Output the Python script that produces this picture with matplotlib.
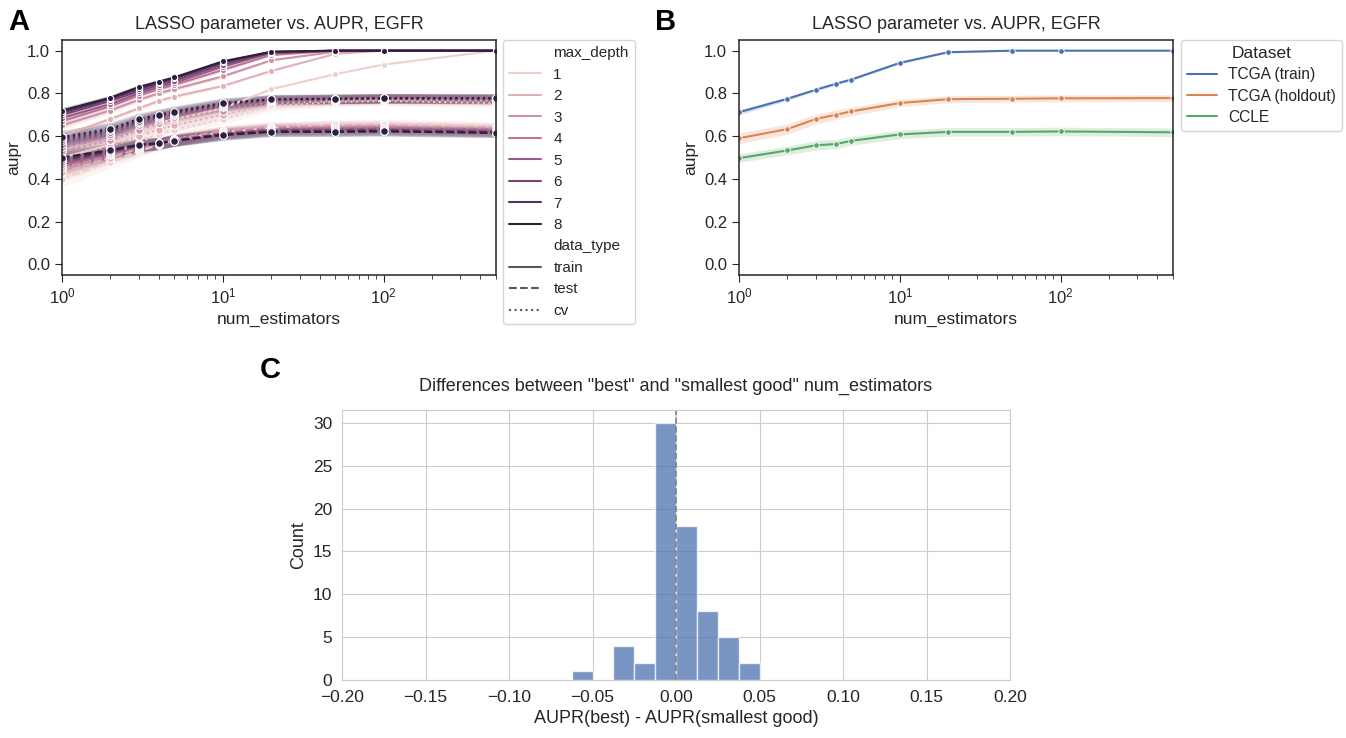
import numpy as np
import matplotlib
matplotlib.use("Agg")
from matplotlib import pyplot as plt
from matplotlib.lines import Line2D
import seaborn as sns

# ---- data -------------------------------------------------------------
n_estimators = [1, 2, 3, 4, 5, 10, 20, 50, 100, 500]
depths = [1, 2, 3, 4, 5, 6, 7, 8]

# panel A: mean aupr per max_depth (rows) and num_estimators (cols)
train_aupr = [
    [0.50, 0.56, 0.62, 0.66, 0.68, 0.73, 0.82, 0.89, 0.935, 1.0],
    [0.60, 0.68, 0.73, 0.765, 0.785, 0.835, 0.905, 0.985, 1.0, 1.0],
    [0.65, 0.72, 0.77, 0.80, 0.82, 0.88, 0.955, 0.995, 1.0, 1.0],
    [0.67, 0.74, 0.79, 0.82, 0.84, 0.91, 0.98, 1.0, 1.0, 1.0],
    [0.685, 0.75, 0.80, 0.83, 0.85, 0.925, 0.99, 1.0, 1.0, 1.0],
    [0.70, 0.765, 0.81, 0.84, 0.86, 0.935, 0.99, 1.0, 1.0, 1.0],
    [0.71, 0.775, 0.82, 0.85, 0.87, 0.945, 0.995, 1.0, 1.0, 1.0],
    [0.72, 0.78, 0.83, 0.855, 0.875, 0.95, 0.995, 1.0, 1.0, 1.0],
]
cv_aupr = [
    [0.45, 0.51, 0.57, 0.61, 0.63, 0.68, 0.74, 0.76, 0.765, 0.755],
    [0.50, 0.55, 0.60, 0.63, 0.65, 0.70, 0.75, 0.765, 0.77, 0.765],
    [0.53, 0.58, 0.63, 0.66, 0.68, 0.72, 0.76, 0.77, 0.775, 0.77],
    [0.55, 0.60, 0.65, 0.675, 0.69, 0.735, 0.765, 0.772, 0.775, 0.772],
    [0.565, 0.61, 0.66, 0.685, 0.70, 0.74, 0.768, 0.773, 0.776, 0.774],
    [0.575, 0.62, 0.665, 0.69, 0.705, 0.745, 0.77, 0.774, 0.777, 0.775],
    [0.585, 0.628, 0.672, 0.695, 0.71, 0.75, 0.772, 0.775, 0.777, 0.776],
    [0.595, 0.635, 0.68, 0.70, 0.715, 0.755, 0.773, 0.775, 0.778, 0.778],
]
test_aupr = [
    [0.40, 0.48, 0.53, 0.56, 0.58, 0.62, 0.64, 0.655, 0.658, 0.645],
    [0.43, 0.50, 0.54, 0.565, 0.585, 0.625, 0.645, 0.65, 0.652, 0.64],
    [0.45, 0.51, 0.545, 0.565, 0.585, 0.62, 0.64, 0.645, 0.645, 0.635],
    [0.46, 0.515, 0.55, 0.565, 0.583, 0.615, 0.635, 0.638, 0.64, 0.63],
    [0.47, 0.52, 0.552, 0.565, 0.58, 0.612, 0.63, 0.632, 0.634, 0.625],
    [0.48, 0.525, 0.555, 0.566, 0.58, 0.61, 0.626, 0.627, 0.629, 0.62],
    [0.49, 0.53, 0.557, 0.566, 0.579, 0.607, 0.622, 0.623, 0.625, 0.617],
    [0.50, 0.535, 0.56, 0.567, 0.578, 0.605, 0.62, 0.62, 0.622, 0.615],
]
# approximate confidence-band half widths per data_type
train_ci = [0.015, 0.012, 0.01, 0.01, 0.01, 0.008, 0.004, 0.0, 0.0, 0.0]
cv_ci = [0.032, 0.03, 0.028, 0.027, 0.026, 0.024, 0.022, 0.022, 0.022, 0.022]
test_ci = [0.038, 0.032, 0.03, 0.028, 0.027, 0.025, 0.022, 0.022, 0.022, 0.022]

# panel B: best model per dataset
datasets = ["TCGA (train)", "TCGA (holdout)", "CCLE"]
b_train = [0.712, 0.775, 0.817, 0.845, 0.865, 0.943, 0.993, 1.0, 1.0, 1.0]
b_holdout = [0.59, 0.633, 0.68, 0.70, 0.716, 0.755, 0.773, 0.775, 0.777, 0.778]
b_ccle = [0.497, 0.533, 0.557, 0.563, 0.578, 0.608, 0.62, 0.62, 0.622, 0.618]
b_train_ci = [0.012, 0.008, 0.006, 0.006, 0.006, 0.006, 0.004, 0.002, 0.001, 0.0]
b_holdout_ci = [0.025, 0.024, 0.023, 0.022, 0.02, 0.018, 0.016, 0.016, 0.016, 0.016]
b_ccle_ci = [0.02, 0.02, 0.022, 0.022, 0.02, 0.02, 0.02, 0.02, 0.02, 0.02]

# panel C: histogram of AUPR differences
bin_edges = [-0.0625, -0.05, -0.0375, -0.025, -0.0125, 0.0, 0.0125, 0.025, 0.0375, 0.05]
bin_counts = [1, 0, 4, 2, 30, 18, 8, 5, 2]
c_ticks = [-0.2, -0.15, -0.1, -0.05, 0.0, 0.05, 0.1, 0.15, 0.2]

# ---- figure -----------------------------------------------------------
W, H = 1346, 738
FONT = ["Liberation Sans", "DejaVu Sans"]
fig = plt.figure(figsize=(W / 100, H / 100), dpi=100)


def style(name):
    st = dict(sns.axes_style(name))
    st["font.family"] = FONT
    return plt.rc_context(st)


def px_axes(l, t, r, b):
    return fig.add_axes([l / W, 1 - b / H, (r - l) / W, (b - t) / H])


def style_ticks(ax):
    ax.set_xscale("log")
    ax.set_xlim(1, 500)
    ax.set_ylim(-0.05, 1.05)
    ax.set_yticks([0.0, 0.2, 0.4, 0.6, 0.8, 1.0])
    ax.tick_params(labelsize=12, color=".15", length=5)
    ax.tick_params(which="minor", length=3, color=".15")
    for s in ax.spines.values():
        s.set_color(".15")
        s.set_linewidth(1.1)
    ax.set_xlabel("num_estimators", fontsize=12.5)
    ax.set_ylabel("aupr", fontsize=12.5)
    ax.set_title("LASSO parameter vs. AUPR, EGFR", fontsize=13, pad=8)


cmap = sns.cubehelix_palette(as_cmap=True)
pal = sns.color_palette("deep")
x = np.array(n_estimators)

with style("ticks"):
    axA = px_axes(62, 40, 496, 275)
    for i, d in enumerate(depths):
        c = cmap(i / (len(depths) - 1))
        for vals, ci, ls, ms in [(train_aupr[i], train_ci, "-", 4.5),
                                 (test_aupr[i], test_ci, "--", 5.5),
                                 (cv_aupr[i], cv_ci, ":", 5.5)]:
            y = np.array(vals)
            e = np.array(ci)
            axA.fill_between(x, y - e, y + e, color=c, alpha=0.2, lw=0)
            axA.plot(x, y, ls=ls, color=c, lw=1.5, marker="o", ms=ms,
                     mec="white", mew=0.8)
    style_ticks(axA)
    handles = [Line2D([], [], color="none")]
    labels = ["max_depth"]
    for i, d in enumerate(depths):
        handles.append(Line2D([], [], color=cmap(i / (len(depths) - 1)), lw=1.5))
        labels.append(str(d))
    handles.append(Line2D([], [], color="none"))
    labels.append("data_type")
    for ls, lab in [("-", "train"), ("--", "test"), (":", "cv")]:
        handles.append(Line2D([], [], color=".35", ls=ls, lw=1.5))
        labels.append(lab)
    axA.legend(handles, labels, loc="upper left", bbox_to_anchor=(1.016, 1.0),
               fontsize=11, handlelength=2.1, handletextpad=0.8,
               labelspacing=0.49, borderaxespad=0, frameon=True)

    axB = px_axes(739, 40, 1173, 275)
    for j, (vals, ci) in enumerate([(b_train, b_train_ci),
                                    (b_holdout, b_holdout_ci),
                                    (b_ccle, b_ccle_ci)]):
        y = np.array(vals)
        e = np.array(ci)
        axB.fill_between(x, y - e, y + e, color=pal[j], alpha=0.2, lw=0)
        axB.plot(x, y, color=pal[j], lw=1.5, marker="o", ms=4,
                 mec="white", mew=0.6)
    style_ticks(axB)
    hB = [Line2D([], [], color=pal[j], lw=1.5) for j in range(3)]
    axB.legend(hB, datasets, title="Dataset", loc="upper left",
               bbox_to_anchor=(1.018, 1.0), fontsize=11.2, title_fontsize=12.5,
               borderaxespad=0, handlelength=1.95, handletextpad=0.7,
               labelspacing=0.4)

with style("whitegrid"):
    axC = px_axes(342, 410, 1010, 680)
    edges = np.array(bin_edges)
    axC.bar(edges[:-1], bin_counts, width=np.diff(edges), align="edge",
            color=pal[0], alpha=0.75, edgecolor="white", lw=1)
    axC.axvline(0, color="grey", ls="--", lw=1.2)
    axC.set_xlim(-0.2, 0.2)
    axC.set_ylim(0, 31.5)
    axC.set_xticks(c_ticks)
    axC.set_xticklabels([f"{v:.2f}".replace("-", "\u2212") for v in c_ticks])
    axC.set_yticks([0, 5, 10, 15, 20, 25, 30])
    axC.tick_params(labelsize=12.5)
    axC.set_axisbelow(True)
    axC.set_xlabel("AUPR(best) - AUPR(smallest good)", fontsize=13)
    axC.set_ylabel("Count", fontsize=13)
    axC.set_title('Differences between "best" and "smallest good" num_estimators',
                  fontsize=13, pad=14)

for lab, xp, yp in [("A", 8, 30), ("B", 655, 30), ("C", 260, 378)]:
    fig.text(xp / W, 1 - yp / H, lab, fontsize=21, fontweight="bold",
             family=FONT)

fig.savefig("out.png", dpi=100)
